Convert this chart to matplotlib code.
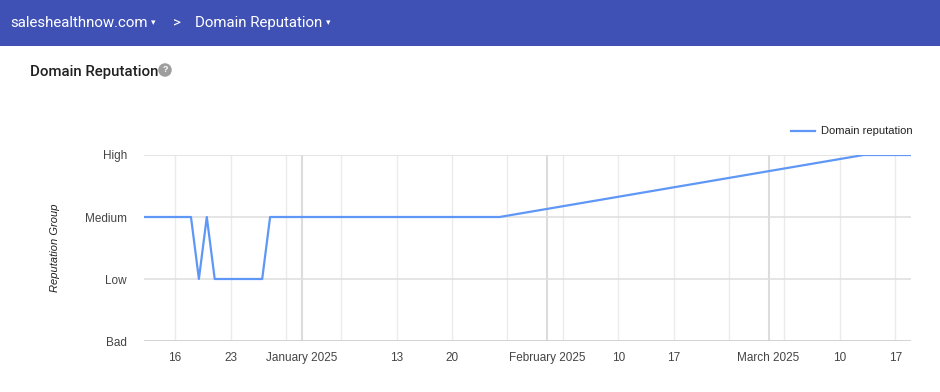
import matplotlib.pyplot as plt
from matplotlib.patches import Rectangle
import datetime as dt

# reputation readings (0=Bad, 1=Low, 2=Medium, 3=High)
dates = ['2024-12-12', '2024-12-18', '2024-12-19', '2024-12-20', '2024-12-21',
         '2024-12-27', '2024-12-28', '2025-01-26', '2025-03-13', '2025-03-19']
values = [2, 2, 1, 2, 1, 1, 2, 2, 3, 3]

levels = [0, 1, 2, 3]
level_names = ['Bad', 'Low', 'Medium', 'High']

tick_dates = ['2024-12-16', '2024-12-23', '2025-01-01', '2025-01-13', '2025-01-20',
              '2025-02-01', '2025-02-10', '2025-02-17', '2025-03-01', '2025-03-10',
              '2025-03-17']
tick_labels = ['16', '23', 'January 2025', '13', '20', 'February 2025', '10', '17',
               'March 2025', '10', '17']
week_lines = ['2024-12-16', '2024-12-23', '2024-12-30', '2025-01-06', '2025-01-13',
              '2025-01-20', '2025-01-27', '2025-02-03', '2025-02-10', '2025-02-17',
              '2025-02-24', '2025-03-03', '2025-03-10', '2025-03-17']
month_lines = ['2025-01-01', '2025-02-01', '2025-03-01']

to_dt = lambda s: dt.datetime.strptime(s, '%Y-%m-%d')
x = [to_dt(d) for d in dates]

chart_font = ['Liberation Sans', 'DejaVu Sans']
ui_font = ['Roboto', 'DejaVu Sans']

fig = plt.figure(figsize=(9.4, 3.92), dpi=100)
fig.patch.set_facecolor('white')

# header bar
fig.add_artist(Rectangle((0, 1 - 46 / 392), 1, 46 / 392, transform=fig.transFigure,
                         facecolor='#3f51b5', edgecolor='none'))
hy = 1 - 23 / 392
fig.text(10 / 940, hy, 'saleshealthnow.com', color='white', fontsize=10.8,
         family=ui_font, va='center')
fig.text(151 / 940, hy, '▾', color='white', fontsize=6.5, family=['DejaVu Sans'], va='center')
fig.text(173 / 940, hy, '>', color='white', fontsize=10.8, family=ui_font, va='center')
fig.text(195 / 940, hy, 'Domain Reputation', color='white', fontsize=10.8,
         family=ui_font, va='center')
fig.text(326 / 940, hy, '▾', color='white', fontsize=6.5, family=['DejaVu Sans'], va='center')

# section title
fig.text(30 / 940, 1 - 72 / 392, 'Domain Reputation', color='#212121', fontsize=10.8,
         family=ui_font, weight='medium', va='center')
fig.text(165 / 940, 1 - 70 / 392, '?', color='white', fontsize=6.5, weight='bold',
         family=chart_font, ha='center', va='center',
         bbox=dict(boxstyle='circle,pad=0.25', fc='#9e9e9e', ec='none'))

ax = fig.add_axes([143.5 / 940, 1 - 341 / 392, 767.5 / 940, 186 / 392])
ax.set_xlim(x[0], x[-1])
ax.set_ylim(0, 3)

for d in week_lines:
    ax.axvline(to_dt(d), color='#ebebeb', lw=1, zorder=0)
for d in month_lines:
    ax.axvline(to_dt(d), color='#dcdcdc', lw=1.5, zorder=0)
for lv in levels[1:]:
    ax.axhline(lv, color='#e0e0e0', lw=1.2, zorder=1)
ax.axhline(0, color='#cccccc', lw=1.2, zorder=1)

ax.plot(x, values, color='#5e97f6', lw=1.6, label='Domain reputation', zorder=3)

for s in ax.spines.values():
    s.set_visible(False)

ax.set_yticks(levels)
ax.set_yticklabels(level_names)
ax.set_xticks([to_dt(d) for d in tick_dates])
ax.set_xticklabels(tick_labels)
ax.tick_params(length=0, labelsize=8.5, labelcolor='#444444', pad=8)
ax.tick_params(axis='y', pad=12)
for lab in ax.get_xticklabels() + ax.get_yticklabels():
    lab.set_family(chart_font)

fig.text(55 / 940, 1 - 248 / 392, 'Reputation Group', rotation=90, style='italic',
         fontsize=8, color='#222222', family=chart_font, ha='center', va='center')

leg = ax.legend(loc='lower right', bbox_to_anchor=(1.002, 1.1), frameon=False,
                prop={'family': chart_font, 'size': 8}, handlelength=2.2,
                handletextpad=0.5, borderaxespad=0, borderpad=0)
for t in leg.get_texts():
    t.set_color('#222222')

fig.savefig('out.png', dpi=100, facecolor='white')
